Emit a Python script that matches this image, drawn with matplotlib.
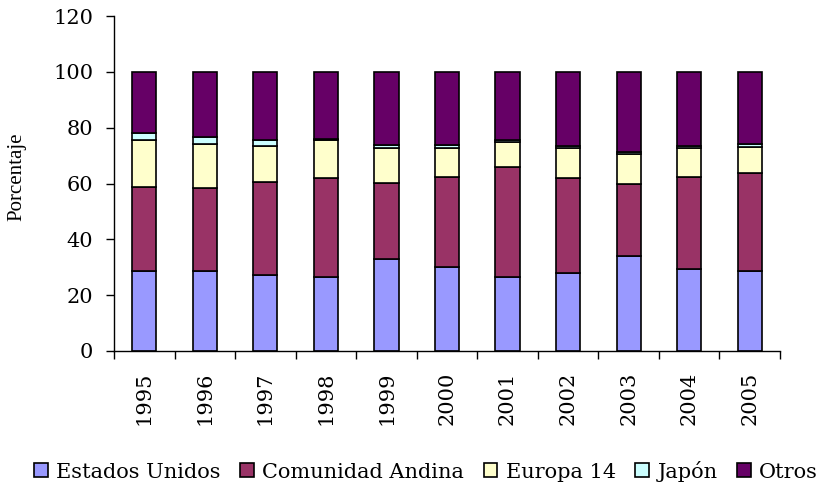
import numpy as np
import matplotlib

matplotlib.use("Agg")
import matplotlib.pyplot as plt
from matplotlib.patches import Patch
from matplotlib.font_manager import FontProperties

# ---- data (percent shares by year) ----
years = ["1995", "1996", "1997", "1998", "1999", "2000",
         "2001", "2002", "2003", "2004", "2005"]
estados_unidos = [28.7, 28.7, 27.2, 26.6, 32.9, 30.0, 26.6, 28.1, 34.2, 29.3, 28.7]
comunidad_andina = [30.2, 29.6, 33.3, 35.3, 27.4, 32.5, 39.3, 33.8, 25.5, 33.2, 35.2]
europa_14 = [16.6, 15.9, 13.0, 13.6, 12.3, 10.1, 8.8, 10.7, 10.8, 10.1, 9.3]
japon = [2.7, 2.6, 2.0, 0.6, 1.1, 1.1, 0.9, 1.0, 0.9, 1.0, 1.1]
otros = [21.8, 23.2, 24.5, 23.9, 26.3, 26.3, 24.4, 26.4, 28.6, 26.4, 25.7]

series = [
    ("Estados Unidos", estados_unidos, "#9999FF"),
    ("Comunidad Andina", comunidad_andina, "#993366"),
    ("Europa 14", europa_14, "#FFFFCC"),
    ("Japón", japon, "#CCFFFF"),
    ("Otros", otros, "#660066"),
]

plt.rcParams["font.family"] = ["DejaVu Serif"]
FS = 15

fig = plt.figure(figsize=(8.22, 4.83), dpi=100, facecolor="white")
ax = fig.add_axes([114 / 822, 1 - 351 / 483, 666 / 822, 335 / 483])

x = np.arange(len(years))
bottom = np.zeros(len(years))
handles = []
for name, vals, color in series:
    vals = np.array(vals)
    ax.bar(x, vals, width=0.4, bottom=bottom, color=color,
           edgecolor="black", linewidth=1.2, zorder=2)
    bottom += vals
    handles.append(Patch(facecolor=color, edgecolor="black", linewidth=1.2,
                         label=name))

ax.set_xlim(-0.5, len(years) - 0.5)
ax.set_ylim(0, 120)
ax.set_yticks(range(0, 121, 20))
ax.tick_params(axis="y", direction="out", length=6, width=1, pad=9,
               labelsize=FS)

# category labels at centers, ticks between categories (Excel style)
ax.set_xticks(x)
ax.set_xticklabels(years, rotation=90, fontsize=FS)
ax.tick_params(axis="x", length=0, pad=15)
ax.set_xticks(np.arange(-0.5, len(years)), minor=True)
ax.tick_params(axis="x", which="minor", direction="out", length=6, width=1)

for side in ("top", "right"):
    ax.spines[side].set_visible(False)
ax.spines["left"].set_linewidth(1)
ax.spines["bottom"].set_linewidth(1)

ax.set_ylabel("Porcentaje",
              fontproperties=FontProperties(family="Liberation Serif", size=15))
ax.yaxis.set_label_coords((26 - 114) / 666, (351 - 177) / 335)

fig.legend(handles=handles, loc="center", bbox_to_anchor=(426 / 822, 1 - 471 / 483),
           ncol=5, frameon=False, fontsize=FS, handlelength=0.65,
           handleheight=0.65, handletextpad=0.4, columnspacing=0.95,
           borderpad=0)

fig.savefig("out.png", dpi=100, facecolor="white")
